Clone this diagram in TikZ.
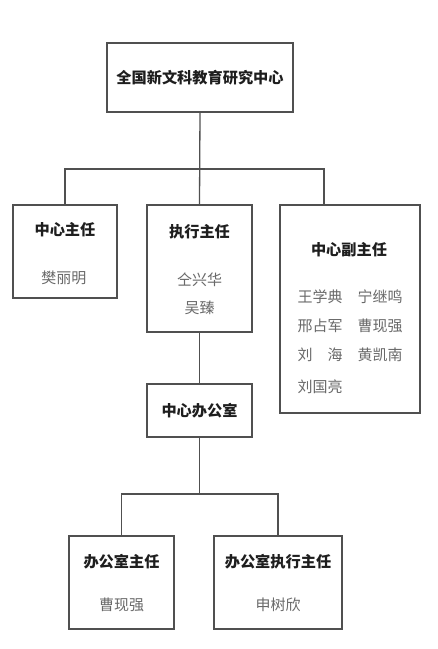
\documentclass[tikz,border=0pt]{standalone}
\usepackage{fontspec}
\newfontfamily\cjk{Noto Sans CJK SC}
\usepackage{xcolor}
\definecolor{linecolor}{RGB}{80,80,80}
\definecolor{titlecolor}{RGB}{30,30,30}
\definecolor{namecolor}{RGB}{105,105,105}
\tikzset{
  unit/.style   = {draw=linecolor, line width=1.3pt, fill=white, inner sep=0pt},
  title/.style  = {font=\cjk\bfseries\fontsize{15.2}{18}\selectfont, text=titlecolor, inner sep=1pt},
  member/.style = {font=\cjk\fontsize{15}{18}\selectfont, text=namecolor, inner sep=1pt},
  link/.style   = {draw=linecolor, line width=1.3pt},
}

\begin{document}
\begin{tikzpicture}[x=1pt, y=-1pt]
  \useasboundingbox (0,0) rectangle (438,649);
  % boxes
  \node[unit, minimum width=186pt, minimum height=69pt, title] (center) at (200,77.5) {全国新文科教育研究中心};
  \foreach \n/\x/\y/\w/\h in {director/65/251.5/104/93, exec/199.5/268.5/105/127,
                              deputy/350/309/140/208, office/199.5/410.5/105/53,
                              offhead/121.5/582.5/105/93, offexec/278/582.5/128/93} {
    \node[unit, minimum width=\w pt, minimum height=\h pt] (\n) at (\x,\y) {};
  }
  % titles
  \foreach \n/\x/\y/\t in {directorT/65/230/中心主任, execT/199.5/232/执行主任,
                           deputyT/349/250/中心副主任, officeT/199.5/410.5/中心办公室,
                           offheadT/121.5/562/办公室主任, offexecT/278/562/办公室执行主任} {
    \node[title] (\n) at (\x,\y) {\t};
  }
  % names
  \foreach \n/\x/\y/\t in {dir1/64/278/樊丽明, exec1/199.5/280/仝兴华, exec2/199.5/308/吴臻,
                           dep1/320/297/王学典, dep2/380/297/宁继鸣,
                           dep3/320/326/邢占军, dep4/380/326/曹现强,
                           dep5/320/355/刘　海, dep6/380/355/黄凯南,
                           dep7/320/387/刘国亮,
                           head1/121.5/605/曹现强, hexec1/278/605/申树欣} {
    \node[member] (\n) at (\x,\y) {\t};
  }
  % connectors
  \coordinate (bus1) at (200,169);
  \coordinate (deptop) at (324,205);
  \coordinate (bus2) at (199.5,494);
  \draw[link] (center.south) -- (exec.north);
  \draw[link] (director.north) |- (bus1) -| (deptop);
  \draw[link] (exec.south) -- (office.north);
  \draw[link] (office.south) -- (bus2);
  \draw[link] (offhead.north) |- (bus2) -| (offexec.north);
\end{tikzpicture}
\end{document}
